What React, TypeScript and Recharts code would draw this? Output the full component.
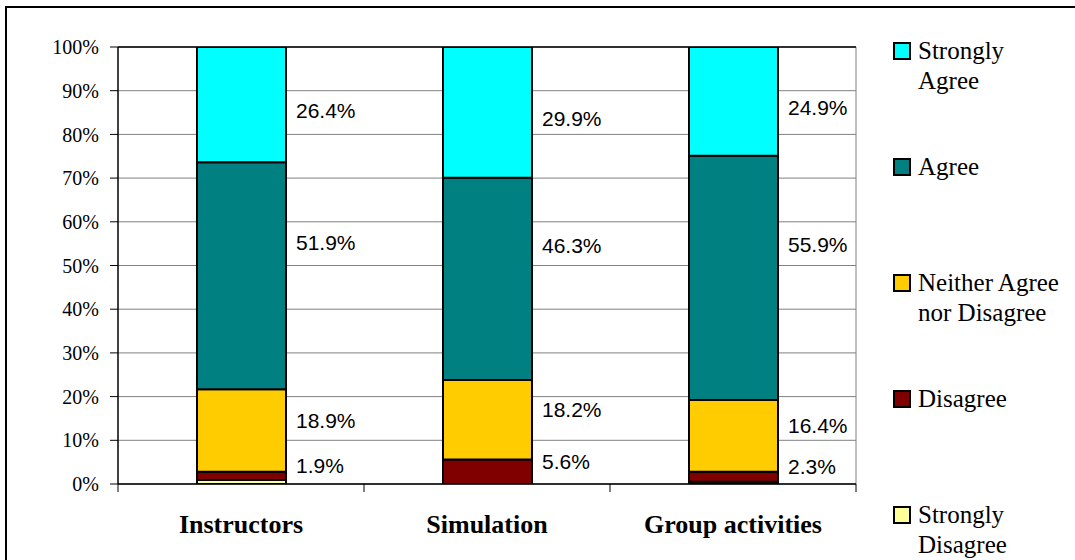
import React from "react";
import {
  BarChart,
  Bar,
  XAxis,
  YAxis,
  CartesianGrid,
  ReferenceLine,
  Legend,
  LabelList,
} from "recharts";

const categories = ["Instructors", "Simulation", "Group activities"];
const stronglyDisagree = [0.9, 0, 0.5];
const disagree = [1.9, 5.6, 2.3];
const neither = [18.9, 18.2, 16.4];
const agree = [51.9, 46.3, 55.9];
const stronglyAgree = [26.4, 29.9, 24.9];
const yTicks = [0, 10, 20, 30, 40, 50, 60, 70, 80, 90, 100];

const legendOrder = [
  "Strongly Agree",
  "Agree",
  "Neither Agree nor Disagree",
  "Disagree",
  "Strongly Disagree",
];
const legendLines: Record<string, string[]> = {
  "Strongly Agree": ["Strongly", "Agree"],
  Agree: ["Agree"],
  "Neither Agree nor Disagree": ["Neither Agree", "nor Disagree"],
  Disagree: ["Disagree"],
  "Strongly Disagree": ["Strongly", "Disagree"],
};

const data = categories.map((name, i) => ({
  name,
  sd: stronglyDisagree[i],
  d: disagree[i],
  n: neither[i],
  a: agree[i],
  sa: stronglyAgree[i],
}));

const SERIF =
  "'Liberation Serif', 'Times New Roman', Times, 'Nimbus Roman', 'DejaVu Serif', 'Noto Serif', serif";
const SANS = "'Liberation Sans', Arial, Helvetica, sans-serif";

const CHART_W = 1075;
const CHART_H = 560;
const MARGIN = { top: 47, right: 219, bottom: 36, left: 0 };
const Y_W = 118;
const X_H = 40;
const BAND = (CHART_W - MARGIN.right - MARGIN.left - Y_W) / categories.length;

const makeLabel = (dy: number) => (props: any) => {
  const { x, y, width, height, value } = props;
  return (
    <text
      x={Number(x) + Number(width) + 10}
      y={Number(y) + Number(height) / 2 + dy}
      fontFamily={SANS}
      fontSize={21}
      fill="#000"
      dominantBaseline="central"
    >
      {`${Number(value).toFixed(1)}%`}
    </text>
  );
};

const CategoryTick = (props: any) => {
  const { x, y, payload, index } = props;
  const left = Number(x) - BAND / 2;
  const right = Number(x) + BAND / 2;
  return (
    <g>
      <line x1={left} x2={left} y1={y} y2={Number(y) + 8} stroke="#000" />
      {index === categories.length - 1 && (
        <line x1={right} x2={right} y1={y} y2={Number(y) + 8} stroke="#000" />
      )}
      <text
        x={x}
        y={Number(y) + 49}
        textAnchor="middle"
        style={{ fontFamily: SERIF }}
        fontWeight="bold"
        fontSize={26}
        fill="#000"
      >
        {payload.value}
      </text>
    </g>
  );
};

const renderLegend = (props: any) => {
  const payload = [...(props.payload || [])].sort(
    (a: any, b: any) => legendOrder.indexOf(a.value) - legendOrder.indexOf(b.value)
  );
  return (
    <div style={{ position: "relative", width: 182, height: 560 }}>
      {payload.map((entry: any, i: number) => {
        const cy = 51 + i * 116;
        const lines = legendLines[entry.value] || [entry.value];
        return (
          <div key={entry.value}>
            <div
              style={{
                position: "absolute",
                left: 0,
                top: cy - 9,
                width: 14,
                height: 14,
                border: "2px solid #000",
                background: entry.color,
              }}
            />
            <div
              style={{
                position: "absolute",
                left: 25,
                top: cy - 15,
                fontFamily: SERIF,
                fontSize: 25,
                lineHeight: "30px",
                color: "#000",
                whiteSpace: "nowrap",
              }}
            >
              {lines.map((l) => (
                <div key={l}>{l}</div>
              ))}
            </div>
          </div>
        );
      })}
    </div>
  );
};

export default function App() {
  return (
    <div
      style={{
        position: "absolute",
        left: 0,
        top: 0,
        width: CHART_W,
        height: CHART_H,
        background: "#fff",
        overflow: "hidden",
      }}
    >
      <div
        style={{
          position: "absolute",
          left: 5,
          top: 6,
          width: 1200,
          height: 700,
          borderTop: "2px solid #000",
          borderLeft: "2px solid #000",
        }}
      />
      <div style={{ position: "absolute", left: 0, top: 0 }}>
        <BarChart
          width={CHART_W}
          height={CHART_H}
          data={data}
          margin={MARGIN}
          barSize={89}
        >
          <CartesianGrid
            stroke="#808080"
            strokeWidth={1}
            verticalCoordinatesGenerator={(p: any) => [
              p.offset.left + p.offset.width,
            ]}
          />
          <XAxis
            dataKey="name"
            height={X_H}
            tickLine={false}
            tickSize={0}
            tickMargin={0}
            axisLine={{ stroke: "#000", strokeWidth: 1.5 }}
            tick={CategoryTick}
            interval={0}
          />
          <YAxis
            width={Y_W}
            domain={[0, 100]}
            ticks={yTicks}
            tickFormatter={(v: number) => `${v}%`}
            tickSize={8}
            tickMargin={11}
            axisLine={{ stroke: "#000", strokeWidth: 1.5 }}
            tickLine={{ stroke: "#000" }}
            tick={{ fontSize: 20, fill: "#000", style: { fontFamily: SERIF } }}
            allowDataOverflow
          />
          <ReferenceLine y={100} stroke="#000" strokeWidth={1.5} />
          <Legend
            layout="horizontal"
            verticalAlign="middle"
            align="center"
            content={renderLegend}
            wrapperStyle={{ left: 893, top: 0, width: 182, height: 560 }}
          />
          <Bar
            dataKey="sd"
            name="Strongly Disagree"
            stackId="s"
            fill="#FFFF99"
            stroke="#000"
            strokeWidth={2}
            isAnimationActive={false}
          />
          <Bar
            dataKey="d"
            name="Disagree"
            stackId="s"
            fill="#800000"
            stroke="#000"
            strokeWidth={2}
            isAnimationActive={false}
          >
            <LabelList dataKey="d" content={makeLabel(-10)} />
          </Bar>
          <Bar
            dataKey="n"
            name="Neither Agree nor Disagree"
            stackId="s"
            fill="#FFCC00"
            stroke="#000"
            strokeWidth={2}
            isAnimationActive={false}
          >
            <LabelList dataKey="n" content={makeLabel(-10)} />
          </Bar>
          <Bar
            dataKey="a"
            name="Agree"
            stackId="s"
            fill="#008080"
            stroke="#000"
            strokeWidth={2}
            isAnimationActive={false}
          >
            <LabelList dataKey="a" content={makeLabel(-33)} />
          </Bar>
          <Bar
            dataKey="sa"
            name="Strongly Agree"
            stackId="s"
            fill="#00FFFF"
            stroke="#000"
            strokeWidth={2}
            isAnimationActive={false}
          >
            <LabelList dataKey="sa" content={makeLabel(6)} />
          </Bar>
        </BarChart>
      </div>
    </div>
  );
}
